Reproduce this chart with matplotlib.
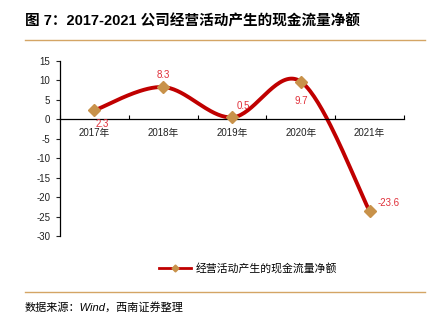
import numpy as np
import matplotlib.pyplot as plt
from matplotlib.lines import Line2D

plt.rcParams['font.family'] = ['Liberation Sans', 'Noto Sans CJK SC', 'DejaVu Sans']
plt.rcParams['axes.unicode_minus'] = False

years = ['2017年', '2018年', '2019年', '2020年', '2021年']
cash_flow = [2.3, 8.3, 0.5, 9.7, -23.6]
series_name = '经营活动产生的现金流量净额'
title = '图 7：2017-2021 公司经营活动产生的现金流量净额'
source = '数据来源：Wind，西南证券整理'

line_red = '#C00000'
marker_tan = '#C8924A'
label_red = '#E0303A'
rule_tan = '#D4A565'


def smooth(xs, ys, n=40):
    """Excel-like smoothed line (Catmull-Rom as cubic Bezier)"""
    pts = np.column_stack([xs, ys]).astype(float)
    out = [pts[0]]
    for i in range(len(pts) - 1):
        p0 = pts[i - 1] if i > 0 else pts[i]
        p1, p2 = pts[i], pts[i + 1]
        p3 = pts[i + 2] if i + 2 < len(pts) else pts[i + 1]
        c1 = p1 + (p2 - p0) / 6
        c2 = p2 - (p3 - p1) / 6
        t = np.linspace(0, 1, n)[1:, None]
        seg = ((1 - t) ** 3) * p1 + 3 * ((1 - t) ** 2) * t * c1 + 3 * (1 - t) * t ** 2 * c2 + t ** 3 * p2
        out.extend(seg)
    out = np.array(out)
    return out[:, 0], out[:, 1]


fig = plt.figure(figsize=(4.34, 3.26), dpi=100)
ax = fig.add_axes([60 / 434, 1 - 236 / 326, 344 / 434, 175 / 326])

x = np.arange(len(years))
sx, sy = smooth(x, cash_flow)
ax.plot(sx, sy, color=line_red, lw=2.8, solid_capstyle='round', zorder=2)
ax.plot(x, cash_flow, ls='none', marker='D', ms=6, color=marker_tan, zorder=3)

# data labels (2.3 sits on top of the year label, as in the source)
offsets = [(6, -10), (0, 9), (8, 8), (0, -14), (14, 6)]
for xi, v, (dx, dy) in zip(x, cash_flow, offsets):
    ax.annotate(f'{v}', (xi, v), xytext=(dx, dy), textcoords='offset points',
                ha='center', va='center', fontsize=7, color=label_red, zorder=4)

ax.set_xlim(-0.5, 4.5)
ax.set_ylim(-30, 15)
ax.set_yticks(np.arange(-30, 16, 5))
ax.tick_params(axis='y', labelsize=7, length=3, width=0.8, colors='#222222', pad=4)

# x axis drawn at zero
ax.spines['bottom'].set_position(('data', 0))
ax.spines['top'].set_visible(False)
ax.spines['right'].set_visible(False)
ax.spines['left'].set_linewidth(0.9)
ax.spines['bottom'].set_linewidth(0.9)
ax.set_xticks(np.arange(-0.5, 4.6, 1))
ax.set_xticklabels([])
ax.tick_params(axis='x', direction='in', length=3, width=0.8)
for xi, lab in zip(x, years):
    ax.text(xi, -2.2, lab, ha='center', va='top', fontsize=7, color='#222222')

# legend
handle = Line2D([], [], color=line_red, lw=2, marker='D', ms=3.5,
                markerfacecolor=marker_tan, markeredgecolor=marker_tan)
fig.legend([handle], [series_name], loc='center', bbox_to_anchor=(248 / 434, 1 - 268 / 326),
           frameon=False, fontsize=7.8, handlelength=3.0, handletextpad=0.4)

# title and rules
fig.text(25 / 434, 1 - 21 / 326, title, fontsize=10.5, fontweight='bold', va='center', ha='left')
fig.add_artist(Line2D([25 / 434, 425 / 434], [1 - 40 / 326] * 2, color=rule_tan, lw=1))
fig.add_artist(Line2D([25 / 434, 425 / 434], [1 - 292 / 326] * 2, color=rule_tan, lw=1))
fig.text(25 / 434, 1 - 307 / 326, source, fontsize=8, style='italic', va='center', ha='left')

fig.savefig('out.png', dpi=100)
